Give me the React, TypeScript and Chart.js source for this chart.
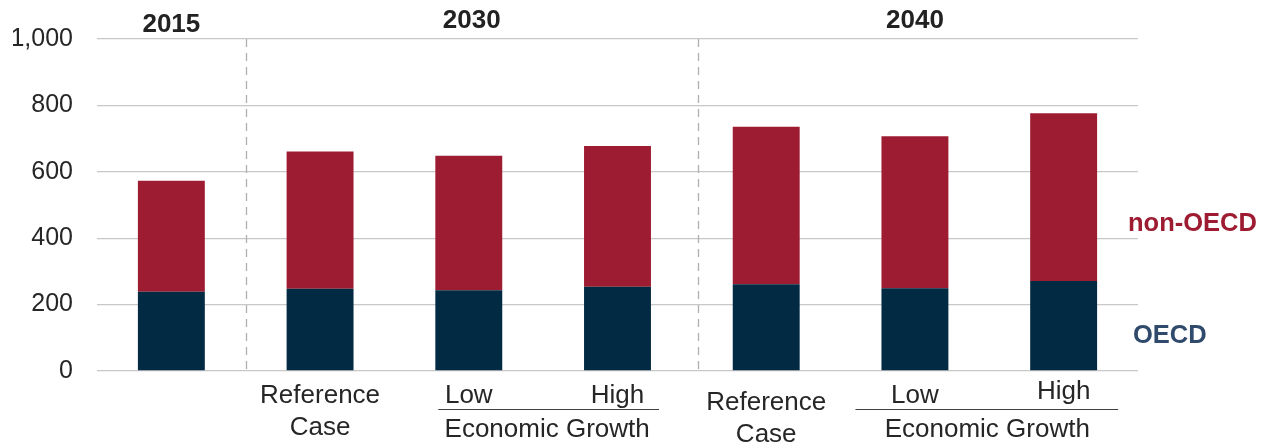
import React, { useEffect, useRef } from "react";
import { Chart, registerables } from "chart.js";

Chart.register(...registerables);

const categories = ["2015", "2030 Reference", "2030 Low", "2030 High", "2040 Reference", "2040 Low", "2040 High"];
const xLabels: string[][] = [[], ["Reference", "Case"], ["Low"], ["High"], ["Reference", "Case"], ["Low"], ["High"]];
const oecd = [239, 248, 243, 254, 261, 249, 271];
const nonOecd = [334, 413, 405, 424, 475, 458, 505];
const yTicks = [0, 200, 400, 600, 800, 1000];
const groupLabels = ["2015", "2030", "2040"];
const groupRanges = [[0, 0], [1, 3], [4, 6]];
const econGrowthPairs = [[2, 3], [5, 6]];
const separatorsAt = [0.5, 3.54];

const FONT = "'Liberation Sans', Arial, Helvetica, sans-serif";
const RED = "#9E1C32";
const NAVY = "#022A42";

const annotations = {
  id: "annotations",
  afterDraw(chart: any) {
    const { ctx, chartArea, scales } = chart;
    const xs = scales.x;
    const meta = chart.getDatasetMeta(0);
    ctx.save();

    // dashed separators
    ctx.strokeStyle = "#b0b0b0";
    ctx.lineWidth = 1.3;
    ctx.setLineDash([8, 6]);
    separatorsAt.forEach((v) => {
      const x = Math.round(xs.getPixelForValue(v)) + 0.5;
      ctx.beginPath();
      ctx.moveTo(x, chartArea.top);
      ctx.lineTo(x, chartArea.bottom);
      ctx.stroke();
    });
    ctx.setLineDash([]);

    // group titles
    ctx.fillStyle = "#222222";
    ctx.font = `bold 26px ${FONT}`;
    ctx.textAlign = "center";
    ctx.textBaseline = "middle";
    groupLabels.forEach((g, i) => {
      const [a, b] = groupRanges[i];
      const x = (xs.getPixelForValue(a) + xs.getPixelForValue(b)) / 2 + (i === 1 ? 3 : 0);
      const y = i === 0 ? chartArea.top - 14 : chartArea.top - 18;
      ctx.fillText(g, x, y);
    });

    // category labels
    ctx.fillStyle = "#262626";
    ctx.font = `26px ${FONT}`;
    xLabels.forEach((lines, i) => {
      const x = xs.getPixelForValue(i);
      const dy = i >= 4 && lines.length === 2 ? 7 : (i === 6 ? -4 : 0);
      lines.forEach((t, k) => {
        ctx.fillText(t, x, chartArea.bottom + 25 + dy + k * 32);
      });
    });

    // Economic Growth brackets
    econGrowthPairs.forEach(([a, b], gi) => {
      const ea = meta.data[a];
      const eb = meta.data[b];
      const left = ea.x - ea.width / 2 + (gi === 0 ? 3 : -26);
      const right = eb.x + eb.width / 2 + (gi === 0 ? 8 : 21);
      const yl = chartArea.bottom + 38;
      ctx.strokeStyle = "#404040";
      ctx.lineWidth = 1.2;
      ctx.beginPath();
      ctx.moveTo(left, yl + 0.5);
      ctx.lineTo(right, yl + 0.5);
      ctx.stroke();
      ctx.fillText("Economic Growth", (ea.x + eb.x) / 2 + (gi === 0 ? 4 : -2), chartArea.bottom + 59);
    });

    // series labels
    ctx.textAlign = "left";
    ctx.font = `bold 25.5px ${FONT}`;
    ctx.fillStyle = RED;
    ctx.fillText("non-OECD", chartArea.right - 10, chartArea.top + 185);
    ctx.fillStyle = "#2F4A6B";
    ctx.fillText("OECD", chartArea.right - 5, chartArea.top + 297);

    ctx.restore();
  },
};

export default function App() {
  const ref = useRef<HTMLCanvasElement | null>(null);
  useEffect(() => {
    if (!ref.current) return;
    const chart = new Chart(ref.current, {
      type: "bar",
      data: {
        labels: categories,
        datasets: [
          { label: "OECD", data: oecd, backgroundColor: NAVY, barPercentage: 0.9, categoryPercentage: 0.5 },
          { label: "non-OECD", data: nonOecd, backgroundColor: RED, barPercentage: 0.9, categoryPercentage: 0.5 },
        ],
      },
      options: {
        animation: false,
        responsive: true,
        maintainAspectRatio: false,
        layout: { padding: { left: 13, right: 130, top: 24, bottom: 73 } },
        plugins: { legend: { display: false }, tooltip: { enabled: false } },
        scales: {
          x: {
            stacked: true,
            grid: { display: false, drawTicks: false },
            border: { display: false },
            ticks: { display: false },
          },
          y: {
            stacked: true,
            min: 0,
            max: 1000,
            afterBuildTicks: (axis: any) => {
              axis.ticks = yTicks.map((v) => ({ value: v }));
            },
            afterFit: (axis: any) => {
              axis.width = 84;
            },
            grid: { color: "#c8c8c8", lineWidth: 1.3, drawTicks: false },
            border: { display: false },
            ticks: {
              padding: 24,
              color: "#262626",
              font: { family: FONT, size: 25 },
              callback: (v: any) => Number(v).toLocaleString("en-US"),
            },
          },
        },
      },
      plugins: [annotations],
    });
    return () => chart.destroy();
  }, []);
  return (
    <div style={{ position: "fixed", left: 0, top: 0, width: 1268, height: 444, background: "#fff" }}>
      <canvas ref={ref} />
    </div>
  );
}
